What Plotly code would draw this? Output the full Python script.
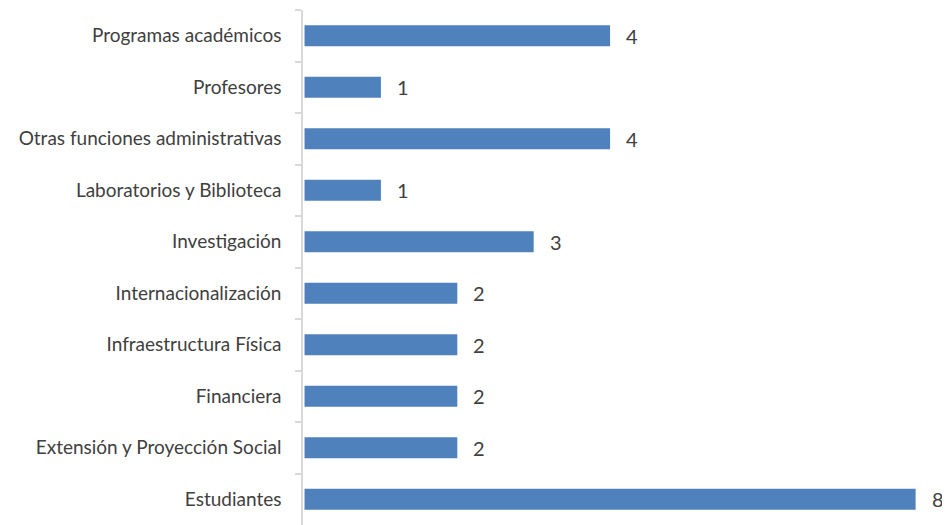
import plotly.graph_objects as go

categories = [
    "Programas académicos",
    "Profesores",
    "Otras funciones administrativas",
    "Laboratorios y Biblioteca",
    "Investigación",
    "Internacionalización",
    "Infraestructura Física",
    "Financiera",
    "Extensión y Proyección Social",
    "Estudiantes",
]
values = [4, 1, 4, 1, 3, 2, 2, 2, 2, 8]

fig = go.Figure()
fig.add_trace(go.Bar(
    y=categories,
    x=values,
    orientation="h",
    marker=dict(color="#4F81BD", line=dict(width=0)),
    width=0.41,
    hoverinfo="skip",
))

for c, v in zip(categories, values):
    fig.add_annotation(
        x=v, y=c, text=str(v), showarrow=False,
        xanchor="left", xshift=14,
        font=dict(family="Lato", size=20, color="#404040"),
    )

fig.update_layout(
    width=950, height=517,
    margin=dict(l=295, r=21, t=2, b=0, autoexpand=False),
    plot_bgcolor="white", paper_bgcolor="white",
    showlegend=False,
    xaxis=dict(range=[-0.02, 8.28], visible=False, fixedrange=True, automargin=False),
    yaxis=dict(
        categoryorder="array", categoryarray=categories,
        autorange="reversed",
        automargin=False,
        showline=True, linecolor="#D9D9D9", linewidth=1.5,
        ticks="outside", ticklen=6, tickcolor="#D9D9D9", tickwidth=1.5,
        tickson="boundaries",
        showgrid=False,
        ticklabelstandoff=16,
        tickfont=dict(family="Lato", size=19, color="#404040"),
    ),
)

fig.write_html("out.html")
